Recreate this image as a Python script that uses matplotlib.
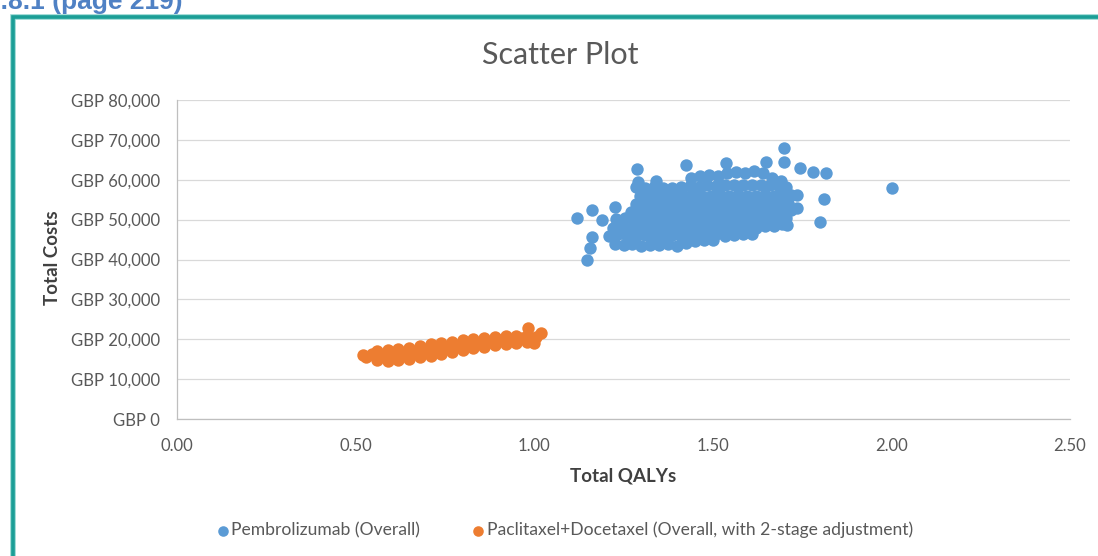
import matplotlib
matplotlib.use('Agg')
import matplotlib.pyplot as plt
from matplotlib.patches import Rectangle

plt.rcParams['font.family'] = ['Lato', 'DejaVu Sans']

# Pembrolizumab (Overall): QALYs / costs
pem_qaly = [
	# ~44k row
	1.225, 1.25, 1.275, 1.30, 1.325, 1.35, 1.375, 1.40, 1.425, 1.45, 1.475, 1.50,
	# ~46k row
	1.21, 1.235, 1.26, 1.285, 1.31, 1.335, 1.36, 1.385, 1.41, 1.435, 1.46, 1.485, 1.51, 1.535, 1.56, 1.585, 1.61,
	# ~48k row
	1.22, 1.245, 1.27, 1.295, 1.32, 1.345, 1.37, 1.395, 1.42, 1.445, 1.47, 1.495, 1.52, 1.545, 1.57, 1.595, 1.62, 1.645, 1.67, 1.695,
	# ~50k row
	1.23, 1.255, 1.28, 1.305, 1.33, 1.355, 1.38, 1.405, 1.43, 1.455, 1.48, 1.505, 1.53, 1.555, 1.58, 1.605, 1.63, 1.655, 1.68, 1.705,
	# ~52k row
	1.27, 1.295, 1.32, 1.345, 1.37, 1.395, 1.42, 1.445, 1.47, 1.495, 1.52, 1.545, 1.57, 1.595, 1.62, 1.645, 1.67, 1.695, 1.72,
	# ~54k row
	1.285, 1.31, 1.335, 1.36, 1.385, 1.41, 1.435, 1.46, 1.485, 1.51, 1.535, 1.56, 1.585, 1.61, 1.635, 1.66, 1.685, 1.71,
	# ~56k row
	1.295, 1.32, 1.345, 1.37, 1.395, 1.42, 1.445, 1.47, 1.495, 1.52, 1.545, 1.57, 1.595, 1.62, 1.645, 1.67, 1.695, 1.72,
	# ~58k row
	1.285, 1.31, 1.335, 1.36, 1.385, 1.41, 1.435, 1.46, 1.485, 1.51, 1.535, 1.56, 1.585, 1.61, 1.635, 1.66, 1.685, 1.705,
	# top edge
	1.44, 1.465, 1.49, 1.515, 1.54, 1.565, 1.59, 1.615, 1.64, 1.665, 1.69, 1.29, 1.34,
	# stragglers
	1.289, 1.426, 1.538, 1.65, 1.70, 1.70, 1.743, 1.78, 1.818, 2.001, 1.81, 1.737, 1.737, 1.80, 1.709,
	1.121, 1.163, 1.19, 1.225, 1.163, 1.155, 1.149,
]
pem_cost = [
	44000, 43600, 43800, 43500, 43700, 43600, 44000, 43500, 44200, 44600, 44800, 45000,
	46000, 46300, 46000, 45800, 46200, 46000, 45700, 46100, 46000, 46300, 45900, 46200, 46400, 46000, 46200, 46400, 46500,
	48000, 48200, 48000, 47800, 48100, 48000, 48200, 47900, 48000, 48200, 48000, 47800, 48100, 48000, 48200, 47900, 48000, 48300, 48500, 48800,
	50200, 50500, 50000, 50100, 50000, 49900, 50200, 50000, 50100, 49800, 50000, 50200, 50000, 49900, 50100, 50000, 50200, 50000, 50100, 50300,
	52000, 52200, 51900, 52000, 52100, 52000, 51800, 52000, 52200, 52000, 51900, 52100, 52000, 52200, 51900, 52000, 52100, 52000, 52300,
	54000, 54100, 53900, 54000, 54200, 54000, 53800, 54000, 54100, 54000, 53900, 54200, 54000, 54100, 53900, 54000, 54200, 54100,
	56000, 55900, 56100, 56000, 55800, 56000, 56200, 56000, 55900, 56100, 56000, 56200, 55900, 56000, 56100, 56000, 56200, 56100,
	58200, 58000, 58100, 57900, 58000, 58200, 58400, 58300, 58600, 58500, 58700, 58800, 58600, 58800, 58700, 58600, 58400, 58200,
	60500, 61000, 61300, 61000, 61800, 62000, 61800, 62200, 61600, 60500, 59800, 59400, 59700,
	62650, 63650, 64150, 64400, 64400, 67900, 62900, 61900, 61650, 57900, 55100, 56100, 52900, 49400, 48600,
	50400, 52400, 49900, 53100, 45600, 42900, 39800,
]

# Paclitaxel+Docetaxel (Overall, with 2-stage adjustment)
pac_qaly = [
	0.53, 0.56, 0.59, 0.62, 0.65, 0.68, 0.71, 0.74, 0.77, 0.80, 0.83, 0.86, 0.89, 0.92, 0.95, 0.98, 1.00,
	0.545, 0.575, 0.605, 0.635, 0.665, 0.695, 0.725, 0.755, 0.785, 0.815, 0.845, 0.875, 0.905, 0.935, 0.965,
	0.56, 0.59, 0.62, 0.65, 0.68, 0.71, 0.74, 0.77, 0.80, 0.83, 0.86, 0.89, 0.92, 0.95, 0.98,
	0.983, 1.02, 1.005, 0.52,
]
pac_cost = [
	15600, 14800, 14600, 14800, 15100, 15500, 15900, 16400, 16800, 17300, 17700, 18100, 18500, 18800, 19100, 19400, 19100,
	16200, 15900, 16000, 16300, 16700, 17100, 17500, 17900, 18300, 18700, 19100, 19400, 19700, 19900, 20200,
	17000, 17200, 17500, 17900, 18300, 18700, 19100, 19400, 19800, 20100, 20300, 20600, 20700, 20900, 20800,
	22900, 21500, 20600, 16000,
]

x_ticks = [0.0, 0.5, 1.0, 1.5, 2.0, 2.5]
y_ticks = [0, 10000, 20000, 30000, 40000, 50000, 60000, 70000, 80000]

W, H = 1098, 556
fig = plt.figure(figsize=(W/100, H/100), dpi=100)
ax = fig.add_axes([177/W, 1-419/H, (1070-177)/W, (419-100)/H])

ax.scatter(pem_qaly, pem_cost, s=80, color='#5b9bd5', linewidths=0, label='Pembrolizumab (Overall)', zorder=3)
ax.scatter(pac_qaly, pac_cost, s=80, color='#ed7d31', linewidths=0, label='Paclitaxel+Docetaxel (Overall, with 2-stage adjustment)', zorder=3)

ax.set_xlim(0, 2.5)
ax.set_ylim(0, 80000)
ax.set_xticks(x_ticks)
ax.set_xticklabels(['%.2f' % v for v in x_ticks])
ax.set_yticks(y_ticks)
ax.set_yticklabels(['GBP {:,}'.format(v) for v in y_ticks])
ax.tick_params(length=0, labelsize=12, labelcolor='#595959')
ax.tick_params(axis='y', pad=12)
ax.tick_params(axis='x', pad=14)
ax.grid(axis='y', color='#d9d9d9', lw=0.9)
ax.set_axisbelow(True)
for s in ['top', 'right']:
	ax.spines[s].set_visible(False)
for s in ['left', 'bottom']:
	ax.spines[s].set_color('#bfbfbf')
	ax.spines[s].set_linewidth(0.9)

fig.text(52/W, 1-258/H, 'Total Costs', rotation=90, ha='center', va='center', fontsize=13.5, weight='bold', color='#404040')
fig.text(623/W, 1-476/H, 'Total QALYs', ha='center', va='center', fontsize=13.5, weight='bold', color='#404040')
fig.text(560/W, 1-55/H, 'Scatter Plot', ha='center', va='center', fontsize=22, color='#595959')

fig.legend(loc='center', bbox_to_anchor=(565/W, 1-530/H), ncol=2, frameon=False, fontsize=12.6,
	handlelength=0.6, handletextpad=0.2, columnspacing=3.0, markerscale=0.85, labelcolor='#595959')

# teal frame around the chart and the clipped heading above it
fig.patches.append(Rectangle((13/W, -0.1), 1.2, 1.1-17/H, transform=fig.transFigure,
	fill=False, edgecolor='#8fd5cf', lw=4.0))
fig.patches.append(Rectangle((13/W, -0.1), 1.2, 1.1-17/H, transform=fig.transFigure,
	fill=False, edgecolor='#1b9e96', lw=2.6))
fig.text(183/W, 1-9/H, '5.8.1 (page 219)', ha='right', va='baseline', fontsize=19,
	weight='bold', color='#4f81c4', family='Liberation Sans')

fig.savefig('out.png', dpi=100)
